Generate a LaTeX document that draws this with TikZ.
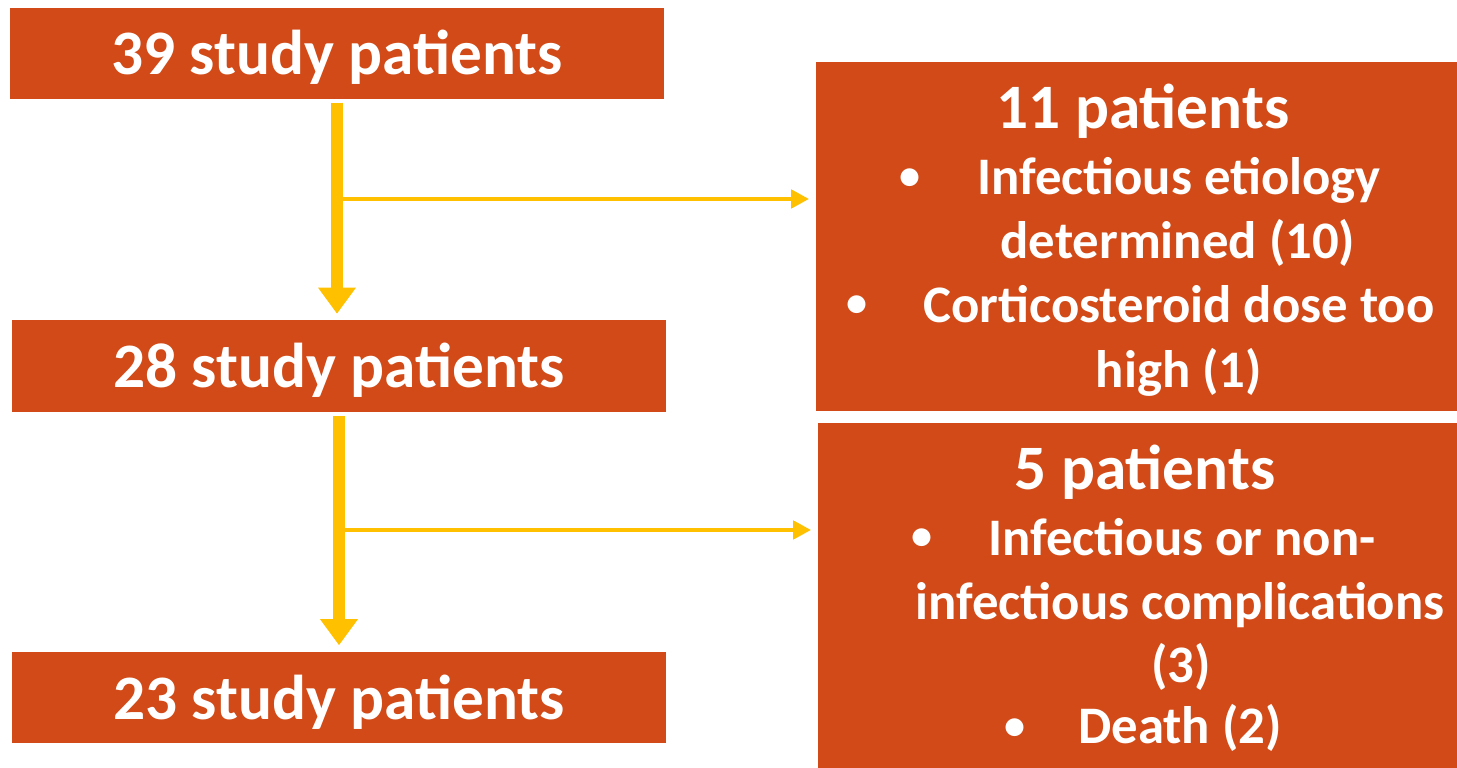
\documentclass[tikz,border=0pt]{standalone}
\usepackage{fontspec}
\setmainfont{Carlito}
\usetikzlibrary{arrows.meta}
\definecolor{rust}{RGB}{209,74,23}
\definecolor{amber}{RGB}{255,192,0}

\begin{document}
\begin{tikzpicture}[
    x=0.01cm, y=-0.01cm,
    countbox/.style={rectangle, fill=rust, text=white, font=\fontsize{18}{22}\selectfont\bfseries, minimum width=6.54cm, minimum height=0.91cm, text height=0.43cm, text depth=0cm, inner sep=0pt},
    exclbox/.style={rectangle, fill=rust, inner sep=0pt},
    headline/.style={anchor=base, text=white, inner sep=0pt, font=\fontsize{18}{22}\selectfont\bfseries},
    reason/.style={anchor=base, text=white, inner sep=0pt, font=\fontsize{15}{18}\selectfont\bfseries},
    bulletdot/.style={text=white, inner sep=0pt, font=\fontsize{12}{14}\selectfont\bfseries},
    flow/.style={-{Triangle[width=3.6mm, length=2.6mm]}, draw=amber, line width=0.12cm},
    drop/.style={-{Triangle[width=1.8mm, length=1.8mm]}, draw=amber, line width=0.045cm}
]
\useasboundingbox (0,0) rectangle (1457,768);

\node[countbox] (n39) at (337,53.5) {39 study patients};
\node[countbox] (n28) at (339,366) {28 study patients};
\node[countbox] (n23) at (339,697.5) {23 study patients};

\node[exclbox, minimum width=6.41cm, minimum height=3.49cm] (ex1) at (1136.5,236.5) {};
\node[exclbox, minimum width=6.39cm, minimum height=3.45cm] (ex2) at (1137.5,595.5) {};

% first exclusion
\node[headline] (t11) at (1143,129) {11 patients};
\node[bulletdot] (d1a) at (910,179) {•};
\node[reason] (r1a) at (1179,195) {Infectious etiology};
\node[reason] (r1b) at (1178,259) {determined (10)};
\node[bulletdot] (d1b) at (857,306) {•};
\node[reason] (r1c) at (1179,323) {Corticosteroid dose too};
\node[reason] (r1d) at (1179,388) {high (1)};

% second exclusion
\node[headline] (t5) at (1145,490) {5 patients};
\node[bulletdot] (d2a) at (922,539) {•};
\node[reason] (r2a) at (1182,556) {Infectious or non-};
\node[reason] (r2b) at (1180,620) {infectious complications};
\node[reason] (r2c) at (1181,683) {(3)};
\node[bulletdot] (d2b) at (1015,729) {•};
\node[reason] (r2d) at (1180,744) {Death (2)};

\draw[flow, shorten <=0.03cm, shorten >=0.06cm] (n39.south) -- (n39.south |- n28.north);
\draw[flow, shorten <=0.04cm, shorten >=0.06cm] (n28.south) -- (n28.south |- n23.north);

\coordinate (j1) at (342,199);
\coordinate (j2) at (344,530);
\draw[drop, shorten >=0.06cm] (j1) -- (j1 -| ex1.west);
\draw[drop, shorten >=0.06cm] (j2) -- (j2 -| ex2.west);
\end{tikzpicture}
\end{document}
